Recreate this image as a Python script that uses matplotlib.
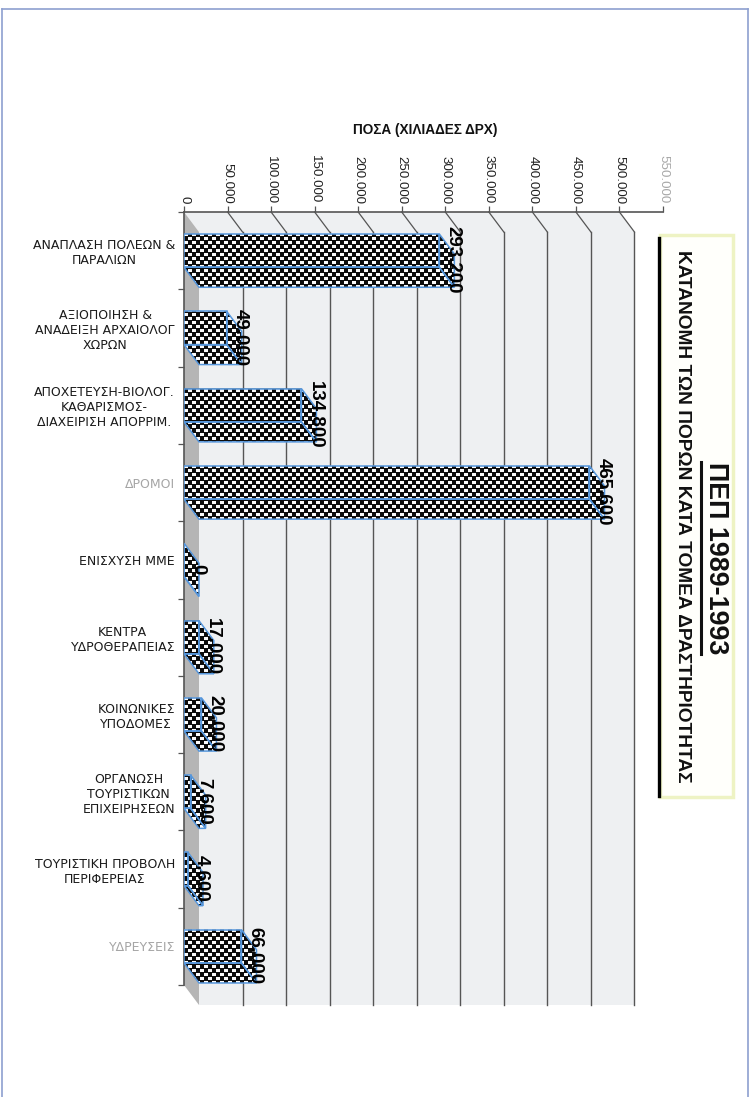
import numpy as np
import matplotlib
matplotlib.use("Agg")
import matplotlib.pyplot as plt
from matplotlib.patches import Polygon, Rectangle
from matplotlib.path import Path
from matplotlib.lines import Line2D
from matplotlib.colors import ListedColormap
from matplotlib import font_manager

# ---------------- data ----------------
categories = [
    "ΑΝΑΠΛΑΣΗ ΠΟΛΕΩΝ &\nΠΑΡΑΛΙΩΝ",
    "ΑΞΙΟΠΟΙΗΣΗ &\nΑΝΑΔΕΙΞΗ ΑΡΧΑΙΟΛΟΓ\nΧΩΡΩΝ",
    "ΑΠΟΧΕΤΕΥΣΗ-ΒΙΟΛΟΓ.\nΚΑΘΑΡΙΣΜΟΣ-\nΔΙΑΧΕΙΡΙΣΗ ΑΠΟΡΡΙΜ.",
    "ΔΡΟΜΟΙ",
    "ΕΝΙΣΧΥΣΗ ΜΜΕ",
    "ΚΕΝΤΡΑ\nΥΔΡΟΘΕΡΑΠΕΙΑΣ",
    "ΚΟΙΝΩΝΙΚΕΣ\nΥΠΟΔΟΜΕΣ",
    "ΟΡΓΑΝΩΣΗ\nΤΟΥΡΙΣΤΙΚΩΝ\nΕΠΙΧΕΙΡΗΣΕΩΝ",
    "ΤΟΥΡΙΣΤΙΚΗ ΠΡΟΒΟΛΗ\nΠΕΡΙΦΕΡΕΙΑΣ",
    "ΥΔΡΕΥΣΕΙΣ",
]
values = [293200, 49000, 134800, 465600, 0, 17000, 20000, 7600, 4600, 66000]
faded_categories = ["ΔΡΟΜΟΙ", "ΥΔΡΕΥΣΕΙΣ"]
x_ticks = [0, 50000, 100000, 150000, 200000, 250000, 300000, 350000,
           400000, 450000, 500000, 550000]
x_tick_labels = ["0", "50.000", "100.000", "150.000", "200.000", "250.000",
                 "300.000", "350.000", "400.000", "450.000", "500.000", "550.000"]
x_max = 550000
wall_max = 500000
x_title = "ΠΟΣΑ (ΧΙΛΙΑΔΕΣ ΔΡΧ)"
title_line1 = "ΠΕΠ 1989-1993"
title_line2 = "ΚΑΤΑΝΟΜΗ ΤΩΝ ΠΟΡΩΝ ΚΑΤΑ ΤΟΜΕΑ ΔΡΑΣΤΗΡΙΟΤΗΤΑΣ"


def fmt(v):
    return f"{v:,}".replace(",", ".")


# ---------------- fonts ----------------
names = {f.name for f in font_manager.fontManager.ttflist}
SANS = ["Liberation Sans", "DejaVu Sans"]
HAS_NARROW = "Liberation Sans Narrow" in names
NARROW = ["Liberation Sans Narrow", "Liberation Sans", "DejaVu Sans"] if HAS_NARROW else SANS
plt.rcParams["font.family"] = SANS

# ---------------- layout (pixels) ----------------
W, H = 751, 1097
AX_L, AX_R, AX_T, AX_B = 184, 663, 212, 985
DX_PX, DY_PX = 15, 20
CELL = 4
GRID_C = "#555555"
EDGE_C = "#5596dc"

fig = plt.figure(figsize=(W / 100, H / 100), dpi=100)
fig.patch.set_facecolor("white")
ax = fig.add_axes([AX_L / W, 1 - AX_B / H, (AX_R - AX_L) / W, (AX_B - AX_T) / H])
n = len(categories)
ax.set_facecolor("none")

xpp = x_max / (AX_R - AX_L)
ypp = n / (AX_B - AX_T)
dx = DX_PX * xpp
dy = DY_PX * ypp
top, bot = -0.5, n - 0.5

# back wall + ceiling strip
ax.add_patch(Rectangle((dx, top + dy), wall_max, n, facecolor="#eef0f2",
                       edgecolor="none", zorder=0, clip_on=False))
ax.add_patch(Polygon([(0, top), (wall_max, top), (wall_max + dx, top + dy), (dx, top + dy)],
                     closed=True, facecolor="#eef0f2", edgecolor="none", zorder=0, clip_on=False))
# side wall
ax.add_patch(Polygon([(0, top), (dx, top + dy), (dx, bot + dy), (0, bot)], closed=True,
                     facecolor="#b5b5b5", edgecolor="none", zorder=0.5, clip_on=False))
# grid lines on back wall
for t in x_ticks:
    if 0 < t <= wall_max:
        ax.plot([t, t + dx], [top, top + dy], color=GRID_C, lw=0.9, zorder=1, clip_on=False)
        ax.plot([t + dx, t + dx], [top + dy, bot + dy], color=GRID_C, lw=1.0, zorder=1, clip_on=False)

# bars
bar_h = 0.43
bars = ax.barh(range(n), values, height=bar_h, facecolor="none", edgecolor=EDGE_C,
               linewidth=1.1, zorder=4)
polys = []
for b in bars:
    x0 = b.get_x()
    v = b.get_width()
    y0 = b.get_y()
    y1 = y0 + b.get_height()
    front = [(x0, y0), (x0 + v, y0), (x0 + v, y1), (x0, y1)]
    bottom = [(x0, y1), (x0 + v, y1), (x0 + v + dx, y1 + dy), (x0 + dx, y1 + dy)]
    right = [(x0 + v, y0), (x0 + v + dx, y0 + dy), (x0 + v + dx, y1 + dy), (x0 + v, y1)]
    for pts in (bottom, right):
        ax.add_patch(Polygon(pts, closed=True, facecolor="none", edgecolor=EDGE_C,
                             linewidth=1.1, zorder=4))
    for pts in (front, bottom, right):
        if v > 0 or pts is right:
            polys.append(Path(pts + [pts[0]], [Path.MOVETO, Path.LINETO, Path.LINETO,
                                               Path.LINETO, Path.CLOSEPOLY]))

# checker pattern (pixel resolution) clipped to bar faces
pw = AX_R - AX_L
ph = AX_B - AX_T
yy, xx = np.mgrid[0:ph, 0:pw]
white = (((xx // CELL) + (yy // CELL)) % 2 == 1) & (yy % CELL != 0)
checker = np.where(white, 0, 1)
im = ax.imshow(checker, cmap=ListedColormap(["#fbfbfb", "#0c0c0c"]), interpolation="nearest",
               extent=(0, x_max, bot, top), aspect="auto", zorder=3, origin="upper",
               vmin=0, vmax=1)
clip = Path.make_compound_path(*polys)
im.set_clip_path(clip, ax.transData)

ax.set_xlim(0, x_max)
ax.set_ylim(bot, top)

# value labels
for i, v in enumerate(values):
    ax.text(v + dx * 0.9, i + 0.12, fmt(v), rotation=-90, ha="center", va="center",
            fontsize=13.5, fontweight="bold", color="black", zorder=6)

# axes / ticks
ax.xaxis.tick_top()
ax.set_xticks(x_ticks)
ax.set_xticklabels(x_tick_labels, rotation=-90, fontsize=9.6, color="#222222")
ax.get_xticklabels()[-1].set_color("#a8a8a8")
ax.tick_params(axis="x", which="major", length=4.5, width=0.9, color=GRID_C, pad=1.5)
ax.set_yticks(range(n))
ax.set_yticklabels(categories, fontsize=9, family=["DejaVu Sans"])
for lab in ax.get_yticklabels():
    lab.set_multialignment("center")
    if lab.get_text() in faded_categories:
        lab.set_color("#a5a5a5")
    else:
        lab.set_color("#1a1a1a")
ax.tick_params(axis="y", which="major", length=0, pad=6.5)
ax.set_yticks(np.arange(top, bot + 0.01, 1.0), minor=True)
ax.tick_params(axis="y", which="minor", length=4.5, width=0.9, color=GRID_C)
for s in ("right", "bottom"):
    ax.spines[s].set_visible(False)
for s in ("top", "left"):
    ax.spines[s].set_color(GRID_C)
    ax.spines[s].set_linewidth(1.2)

# axis title
fig.text(425 / W, 1 - 130 / H, x_title, ha="center", va="center", fontsize=9.8,
         fontweight="bold", color="#111111")

# title box
fig.add_artist(Rectangle((660 / W, 1 - 797 / H), 73 / W, 562 / H, transform=fig.transFigure,
                         facecolor="#fffffb", edgecolor="#eef3c4", linewidth=2.5, zorder=1))
fig.add_artist(Line2D([659 / W, 659 / W], [1 - 238 / H, 1 - 796 / H], color="black",
                      linewidth=2.4, zorder=2))
t1 = fig.text(716 / W, 1 - 558 / H, title_line1, rotation=-90, ha="center", va="center",
              fontsize=19.4, fontweight="bold", color="#111111", zorder=3)
t2 = fig.text(682 / W, 1 - 516 / H, title_line2, rotation=-90, ha="center", va="center",
              fontsize=16.8 if HAS_NARROW else 13.8, fontweight="bold", color="#111111",
              family=NARROW, zorder=3)
fig.canvas.draw()
bb = t1.get_window_extent()
ux = (bb.x0 - 2) / W
fig.add_artist(Line2D([ux, ux], [bb.y0 / H, bb.y1 / H], color="#111111", linewidth=2.2, zorder=3))

# page border
bc = "#8ea0d0"
fig.add_artist(Line2D([1.5 / W, 1.5 / W], [0, 1 - 9 / H], color=bc, linewidth=1.2))
fig.add_artist(Line2D([1.5 / W, 748 / W], [1 - 9 / H, 1 - 9 / H], color=bc, linewidth=1.2))
fig.add_artist(Line2D([748 / W, 748 / W], [0, 1 - 9 / H], color=bc, linewidth=1.2))

fig.savefig("out.png", dpi=100)
